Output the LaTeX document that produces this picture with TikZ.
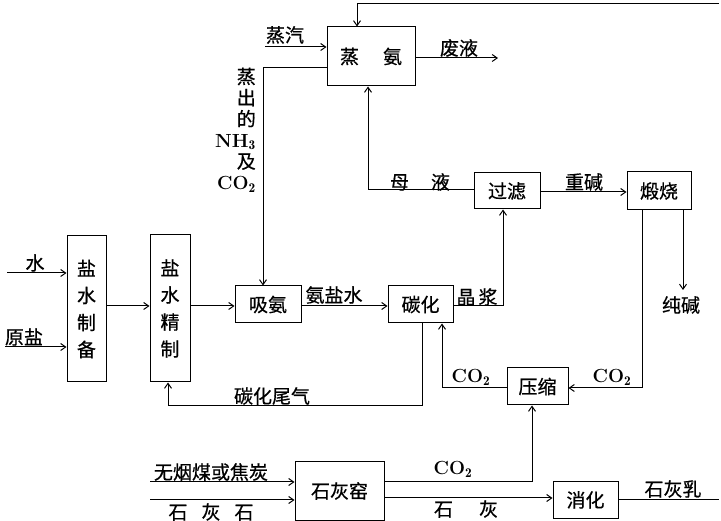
\documentclass[tikz,border=0pt]{standalone}
\usepackage{fontspec}
\newfontfamily\cjk[FakeBold=0.6]{Noto Sans CJK SC}
\usetikzlibrary{arrows.meta}
\newcommand\zh{\cjk\fontsize{19}{27}\selectfont}
\newcommand\chem[2]{{\rmfamily\bfseries\fontsize{19}{21}\selectfont #1$_{\mathbf{#2}}$}}
\begin{document}
\begin{tikzpicture}[x=1pt,y=-1pt,
 box/.style={draw, line width=1pt, inner sep=0pt, font=\zh},
 lab/.style={inner sep=0pt, font=\zh},
 ln/.style={line width=1pt},
 arr/.style={ln, -{Straight Barb[length=5pt,width=7pt]}}]
\useasboundingbox (0,0) rectangle (721,521);

% process boxes
\node[box, minimum width=88pt, minimum height=59pt] (zha) at (371,56.5) {蒸\hspace{24pt}氨};
\node[box, minimum width=66pt, minimum height=36pt] (glv) at (507,191) {过滤};
\node[box, minimum width=64pt, minimum height=38pt] (dsh) at (659,191) {煅烧};
\node[box, minimum width=66pt, minimum height=37pt] (xan) at (268,304.5) {吸氨};
\node[box, minimum width=65pt, minimum height=37pt] (thu) at (420.5,304.5) {碳化};
\node[box, minimum width=61pt, minimum height=37pt] (ysu) at (537.5,386.5) {压缩};
\node[box, minimum width=39pt, minimum height=146pt, align=center] (zbe) at (86.5,309) {盐\\水\\制\\备};
\node[box, minimum width=40pt, minimum height=147pt, align=center] (jzh) at (170,308.5) {盐\\水\\精\\制};
\node[box, minimum width=89pt, minimum height=58pt] (shy) at (339.5,491) {石灰窑};
\node[box, minimum width=65pt, minimum height=36pt] (xhu) at (585.5,500) {消化};

% labels
\node[lab] (lshui) at (35,263) {水};
\node[lab] (lyy) at (24,337) {原盐};
\node[lab] (lzq) at (285,35) {蒸汽};
\node[lab] (lfy) at (459,48) {废液};
\node[lab, align=right, anchor=east, font=\cjk\fontsize{19}{21.2}\selectfont] (lnh) at (256,130) {蒸\\出\\的\\\chem{NH}{3}\\及\\\chem{CO}{2}};
\node[lab] (lmy) at (420,182) {母\hspace{22pt}液};
\node[lab] (lzj) at (584,182) {重碱};
\node[lab] (lcj) at (681,305) {纯碱};
\node[lab] (lays) at (334,295) {氨盐水};
\node[lab] (ljj) at (477,297) {晶\hspace{3pt}浆};
\node[lab] (lwq) at (272,396) {碳化尾气};
\node[lab] (lco1) at (471,377) {\chem{CO}{2}};
\node[lab] (lco2) at (612,377) {\chem{CO}{2}};
\node[lab] (lco3) at (453,469) {\chem{CO}{2}};
\node[lab] (lwy) at (211,472) {无烟煤或焦炭};
\node[lab] (lshs) at (211,512) {石\hspace{14pt}灰\hspace{14pt}石};
\node[lab] (lsh) at (466,509) {石\hspace{26pt}灰};
\node[lab] (lshr) at (673,489) {石灰乳};

% helper coordinates
\coordinate (ptop) at (719,4);
\coordinate (pzq) at (265,47);
\coordinate (pfy) at (498,58);
\coordinate (pnh) at (263,68);
\coordinate (pmy) at (368,190);
\coordinate (pzj) at (0,192);
\coordinate (pds) at (642,388);
\coordinate (pcj) at (683,290);
\coordinate (psh) at (7,273);
\coordinate (pyy) at (5,347);
\coordinate (p1) at (0,306);
\coordinate (pjj) at (503,306);
\coordinate (pwq1) at (422,406);
\coordinate (pwq2) at (168,406);
\coordinate (pco) at (442,388);
\coordinate (pc3) at (532,482);
\coordinate (psh2) at (0,498);
\coordinate (pshr) at (719,500);
\coordinate (pwy) at (150,482);
\coordinate (pss) at (150,500);

% connectors
\draw[arr] (ptop) -| ([xshift=-14pt]zha.north);
\draw[arr] (pzq) -- (pzq -| zha.west);
\draw[arr] (pfy -| zha.east) -- (pfy);
\draw[arr] (pnh -| zha.west) -- (pnh) -- (pnh |- xan.north);
\draw[arr] (pmy -| glv.west) -- (pmy) -- (pmy |- zha.south);
\draw[arr] (pzj -| glv.east) -- (pzj -| dsh.west);
\draw[arr] (pds |- dsh.south) -- (pds) -- (pds -| ysu.east);
\draw[arr] (pcj |- dsh.south) -- (pcj);
\draw[arr] (psh) -- (psh -| zbe.west);
\draw[arr] (pyy) -- (pyy -| zbe.west);
\draw[arr] (p1 -| zbe.east) -- (p1 -| jzh.west);
\draw[arr] (p1 -| jzh.east) -- (p1 -| xan.west);
\draw[arr] (p1 -| xan.east) -- (p1 -| thu.west);
\draw[arr] (pjj -| thu.east) -- (pjj) -- (pjj |- glv.south);
\draw[arr] (pwq1 |- thu.south) -- (pwq1) -- (pwq2) -- (pwq2 |- jzh.south);
\draw[arr] (pco -| ysu.west) -- (pco) -- (pco |- thu.south);
\draw[arr] (pc3 -| shy.east) -- (pc3) -- (pc3 |- ysu.south);
\draw[arr] (psh2 -| shy.east) -- (psh2 -| xhu.west);
\draw[ln] (pshr -| xhu.east) -- (pshr);
\draw[arr] (pwy) -- (pwy -| shy.west);
\draw[arr] (pss) -- (pss -| shy.west);
\end{tikzpicture}
\end{document}
